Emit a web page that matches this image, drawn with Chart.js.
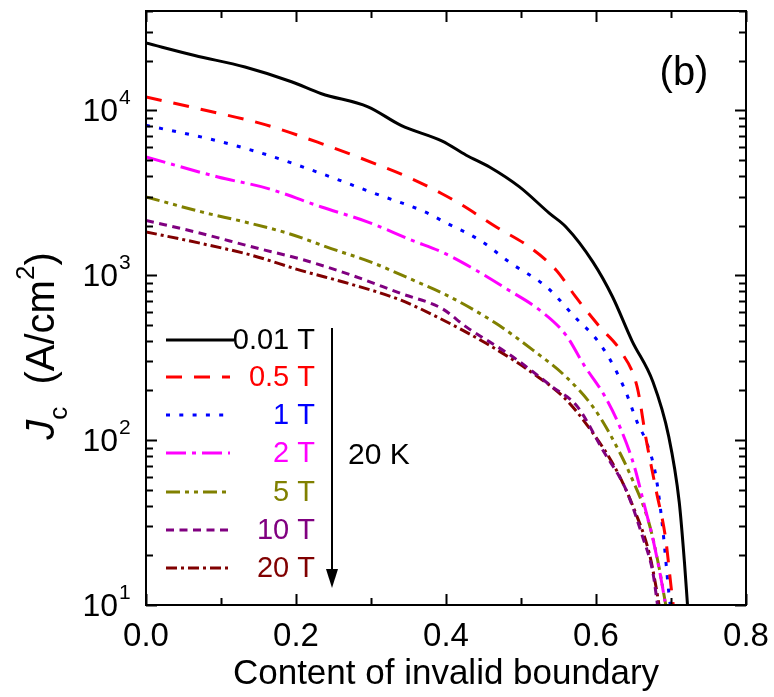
<!DOCTYPE html>
<html>
<head>
<meta charset="utf-8">
<script src="https://cdn.jsdelivr.net/npm/chart.js@4.4.0/dist/chart.umd.min.js"></script>
<style>
  html, body { margin: 0; padding: 0; background: #fff; }
  #wrap { width: 774px; height: 697px; }
</style>
</head>
<body>
<div id="wrap"><canvas id="c" width="774" height="697"></canvas></div>
<script>
// applied field for each curve (all measured at 20 K)
const fields = ['0.01 T', '0.5 T', '1 T', '2 T', '5 T', '10 T', '20 T'];

// content of invalid boundary (x) and Jc in A/cm^2
const x001 = [0, 0.065, 0.132, 0.194, 0.234, 0.296, 0.34, 0.395, 0.427, 0.458, 0.498, 0.538, 0.56, 0.596, 0.622, 0.648, 0.676, 0.697, 0.711, 0.718, 0.722];
const jc001 = [25600, 21500, 18300, 14900, 12600, 10500, 8100, 6500, 5340, 4530, 3430, 2370, 1960, 1200, 740, 400, 225, 105, 42, 18, 10];

const x05 = [0, 0.079, 0.154, 0.234, 0.305, 0.354, 0.394, 0.418, 0.467, 0.511, 0.547, 0.573, 0.605, 0.633, 0.655, 0.667, 0.68, 0.693, 0.70, 0.703];
const jc05 = [12050, 10000, 8300, 6280, 4750, 3850, 3130, 2720, 1960, 1486, 1072, 738, 486, 346, 209, 100, 50, 25, 13, 10];

const x1 = [0, 0.092, 0.163, 0.234, 0.305, 0.372, 0.398, 0.445, 0.487, 0.534, 0.576, 0.596, 0.615, 0.638, 0.656, 0.667, 0.68, 0.689, 0.697, 0.699];
const jc1 = [8110, 6580, 5340, 4130, 3130, 2420, 2100, 1630, 1178, 849, 533, 433, 329, 205, 125, 98, 60, 29, 12, 10];

const x2 = [0, 0.096, 0.163, 0.234, 0.296, 0.354, 0.394, 0.44, 0.48, 0.525, 0.56, 0.584, 0.611, 0.633, 0.651, 0.664, 0.676, 0.686, 0.692];
const jc2 = [5210, 3940, 3350, 2590, 2100, 1630, 1385, 1072, 830, 614, 433, 285, 187, 117, 69.5, 41, 25, 15, 10.5];

const x5 = [0, 0.074, 0.132, 0.19, 0.247, 0.3, 0.357, 0.40, 0.467, 0.516, 0.56, 0.596, 0.618, 0.649, 0.671, 0.684, 0.693];
const jc5 = [2985, 2420, 2100, 1790, 1450, 1200, 930, 760, 509, 351, 242, 159, 110, 57, 31, 17, 10];

const x10 = [0, 0.074, 0.141, 0.208, 0.274, 0.34, 0.394, 0.427, 0.489, 0.542, 0.575, 0.609, 0.64, 0.662, 0.676, 0.682];
const jc10 = [2150, 1790, 1486, 1245, 1000, 774, 630, 486, 320, 210, 160, 87, 50, 26, 15.6, 10];

const x20 = [0, 0.074, 0.141, 0.206, 0.274, 0.34, 0.388, 0.454, 0.516, 0.558, 0.593, 0.627, 0.653, 0.671, 0.68, 0.684];
const jc20 = [1830, 1556, 1321, 1070, 880, 705, 558, 385, 254, 180, 115, 66, 36, 20.6, 12.9, 10];

const xTickValues = [0, 0.2, 0.4, 0.6, 0.8];
const yDecades = [1, 2, 3, 4];

// styles
const colors = ['#000000', '#ff0000', '#0000ff', '#ff00ff', '#808000', '#800080', '#800000'];
const dashes = [[], [16, 12], [4, 9.3], [20, 6, 4, 6], [14, 5, 4, 5, 4, 5], [8, 5.5], [11, 4, 3, 4]];
const FONT = '"Liberation Sans", Arial, Helvetica, sans-serif';

const seriesX = [x001, x05, x1, x2, x5, x10, x20];
const seriesY = [jc001, jc05, jc1, jc2, jc5, jc10, jc20];

const datasets = fields.map((f, i) => ({
  label: f,
  data: seriesX[i].map((x, k) => ({ x: x, y: seriesY[i][k] })),
  borderColor: colors[i],
  borderWidth: 3,
  borderDash: dashes[i],
  pointRadius: 0,
  cubicInterpolationMode: 'monotone',
  fill: false
}));

const decor = {
  id: 'decor',
  afterDraw(chart) {
    const { ctx, chartArea: a, scales } = chart;
    const xs = scales.x, ys = scales.y;
    ctx.save();
    ctx.strokeStyle = '#000';
    ctx.fillStyle = '#000';
    ctx.lineWidth = 2;

    // inward ticks, x
    ctx.beginPath();
    for (let v = 0; v <= 0.8001; v += 0.1) {
      const px = Math.round(xs.getPixelForValue(v)) + 0.5;
      const major = Math.abs(v / 0.2 - Math.round(v / 0.2)) < 1e-6;
      const len = major ? 11 : 7;
      ctx.moveTo(px, a.bottom); ctx.lineTo(px, a.bottom - len);
      ctx.moveTo(px, a.top); ctx.lineTo(px, a.top + len);
    }
    // inward ticks, y (log)
    for (let d = 1; d <= 4; d++) {
      for (let m = 1; m <= 9; m++) {
        const v = m * Math.pow(10, d);
        if (v > ys.max) break;
        const py = Math.round(ys.getPixelForValue(v)) + 0.5;
        const len = m === 1 ? 11 : 7;
        ctx.moveTo(a.left, py); ctx.lineTo(a.left + len, py);
        ctx.moveTo(a.right, py); ctx.lineTo(a.right - len, py);
      }
    }
    ctx.stroke();

    // frame
    ctx.strokeRect(a.left, a.top, a.right - a.left, a.bottom - a.top);

    // y tick labels 10^n
    yDecades.forEach(d => {
      const py = ys.getPixelForValue(Math.pow(10, d));
      ctx.textAlign = 'right';
      ctx.textBaseline = 'middle';
      ctx.font = '32px ' + FONT;
      ctx.fillText('10', 118, py + 2);
      ctx.textAlign = 'left';
      ctx.font = '21px ' + FONT;
      ctx.fillText(String(d), 119, py - 12);
    });

    // y title: J_c (A/cm^2)
    ctx.save();
    ctx.translate(54, 346);
    ctx.rotate(-Math.PI / 2);
    ctx.textBaseline = 'alphabetic';
    ctx.textAlign = 'left';
    const parts = [
      { t: 'J', f: 'italic 40px ' + FONT, dy: 0 },
      { t: 'c', f: '26px ' + FONT, dy: 13 },
      { t: '  (A/cm', f: '40px ' + FONT, dy: 0 },
      { t: '2', f: '26px ' + FONT, dy: -20 },
      { t: ')', f: '40px ' + FONT, dy: 0 }
    ];
    let total = 0;
    parts.forEach(p => { ctx.font = p.f; p.w = ctx.measureText(p.t).width; total += p.w; });
    let cx = -total / 2;
    parts.forEach(p => { ctx.font = p.f; ctx.fillText(p.t, cx, p.dy); cx += p.w; });
    ctx.restore();

    // legend
    const rowY = [340, 377, 415, 453, 492, 530, 568];
    fields.forEach((f, i) => {
      ctx.save();
      ctx.strokeStyle = colors[i];
      ctx.lineWidth = 3;
      ctx.setLineDash(dashes[i]);
      ctx.beginPath();
      ctx.moveTo(166, rowY[i]);
      ctx.lineTo(i === 0 ? 234 : 230, rowY[i]);
      ctx.stroke();
      ctx.restore();
      ctx.fillStyle = colors[i];
      ctx.font = '29px ' + FONT;
      ctx.textAlign = 'right';
      ctx.textBaseline = 'middle';
      ctx.fillText(f, 315, rowY[i] + 1);
    });

    // arrow + temperature
    ctx.fillStyle = '#000';
    ctx.lineWidth = 2;
    ctx.beginPath();
    ctx.moveTo(332, 328); ctx.lineTo(332, 572);
    ctx.stroke();
    ctx.beginPath();
    ctx.moveTo(326, 569); ctx.lineTo(338, 569); ctx.lineTo(332, 588);
    ctx.closePath(); ctx.fill();
    ctx.font = '30px ' + FONT;
    ctx.textAlign = 'left';
    ctx.textBaseline = 'middle';
    ctx.fillText('20 K', 348, 456);

    // panel label
    ctx.font = '40px ' + FONT;
    ctx.textAlign = 'center';
    ctx.fillText('(b)', 684, 74);
    ctx.restore();
  }
};

new Chart(document.getElementById('c'), {
  type: 'line',
  data: { datasets: datasets },
  options: {
    responsive: false,
    animation: false,
    layout: { padding: { top: 11, right: 28, left: 0, bottom: 0 } },
    plugins: { legend: { display: false }, tooltip: { enabled: false } },
    scales: {
      x: {
        type: 'linear',
        min: 0,
        max: 0.8,
        afterBuildTicks: s => { s.ticks = xTickValues.map(v => ({ value: v })); },
        afterFit: s => { s.height = 92; },
        ticks: {
          color: '#000',
          font: { family: FONT, size: 33 },
          padding: 4,
          maxRotation: 0,
          callback: v => v.toFixed(1)
        },
        grid: { display: false },
        border: { display: false },
        title: {
          display: true,
          text: 'Content of invalid boundary',
          color: '#000',
          font: { family: FONT, size: 35 },
          padding: { top: 0, bottom: 2 }
        }
      },
      y: {
        type: 'logarithmic',
        min: 10,
        max: 40000,
        afterFit: s => { s.width = 146; },
        ticks: { display: false },
        grid: { display: false },
        border: { display: false }
      }
    }
  },
  plugins: [decor]
});
</script>
</body>
</html>
